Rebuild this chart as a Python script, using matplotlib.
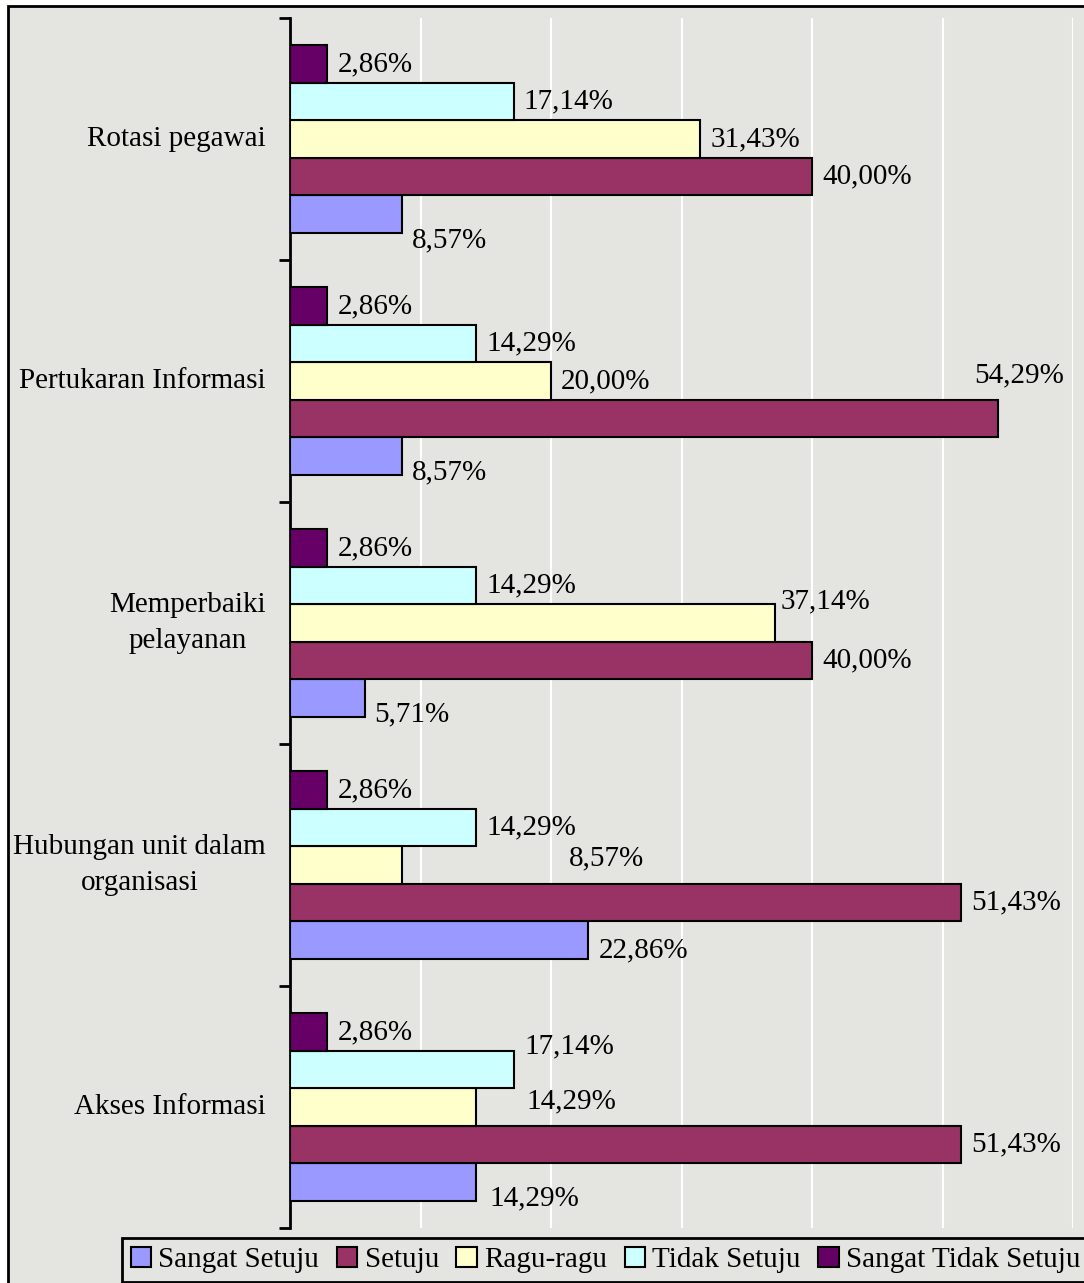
import numpy as np
import matplotlib
matplotlib.use('Agg')
import matplotlib.pyplot as plt
from matplotlib.patches import Rectangle, Patch

plt.rcParams['font.family'] = ['Liberation Serif', 'DejaVu Serif']

# data, categories listed top to bottom as in the chart
categories = ['Rotasi pegawai', 'Pertukaran Informasi', 'Memperbaiki\npelayanan',
              'Hubungan unit dalam\norganisasi', 'Akses Informasi']
series = ['Sangat Setuju', 'Setuju', 'Ragu-ragu', 'Tidak Setuju', 'Sangat Tidak Setuju']
sangat_setuju = [8.57, 8.57, 5.71, 22.86, 14.29]
setuju = [40.00, 54.29, 40.00, 51.43, 51.43]
ragu_ragu = [31.43, 20.00, 37.14, 8.57, 14.29]
tidak_setuju = [17.14, 14.29, 14.29, 14.29, 17.14]
sangat_tidak_setuju = [2.86, 2.86, 2.86, 2.86, 2.86]
values = [sangat_setuju, setuju, ragu_ragu, tidak_setuju, sangat_tidak_setuju]
colors = ['#9999ff', '#993366', '#ffffcc', '#ccffff', '#660066']

# label nudges in pixels (category, series) -> (dx, dy)
nudge = {(0, 0): (10, -26), (1, 1): (-24, 43), (2, 2): (6, 22), (3, 2): (167, 7),
         (3, 0): (10, -10), (4, 3): (11, 23), (4, 2): (50, 6), (4, 0): (13, -16)}

bg = '#e4e4e1'
fig = plt.figure(figsize=(10.84, 12.83), dpi=100)
fig.patch.set_facecolor('white')
frame = Rectangle((8/1084, -0.05), 1.2, 1 - 6/1283 + 0.05, transform=fig.transFigure,
                  facecolor=bg, edgecolor='black', linewidth=2, zorder=-5)
fig.patches.append(frame)

ax = fig.add_axes([290/1084, 1 - 1228/1283, 783/1084, 1210/1283])
ax.patch.set_alpha(0)

n = len(categories)
ypos = np.arange(n)[::-1]  # first category on top
h = 37.5/242
for j in range(len(series)):
    yy = ypos + (j - 2)*h
    ax.barh(yy, values[j], height=h, color=colors[j], edgecolor='black', linewidth=1.5,
            label=series[j], zorder=3)
    for i in range(n):
        v = values[j][i]
        dx, dy = nudge.get((i, j), (10, -16 if j == 0 else 0))
        ax.annotate(f'{v:.2f}%'.replace('.', ','), (v, yy[i]), xytext=(dx, dy),
                    textcoords='offset pixels', ha='left', va='center', fontsize=21, zorder=4)

ax.set_xlim(0, 60)
ax.set_ylim(-0.5, n - 0.5)
ax.set_xticks(np.arange(0, 61, 10))
ax.tick_params(axis='x', length=0, labelbottom=False)
ax.grid(axis='x', color='white', linewidth=1.5, zorder=1)
ax.set_yticks(np.arange(-0.5, n, 1.0))
ax.set_yticklabels([])
ax.tick_params(axis='y', length=8, width=2, direction='out')
for s in ['top', 'right', 'bottom']:
    ax.spines[s].set_visible(False)
ax.spines['left'].set_linewidth(2)

for i, c in enumerate(categories):
    ax.text(-24/13.05, ypos[i], c, ha='right', va='center', multialignment='center',
            fontsize=21, linespacing=1.45)

handles = [Patch(facecolor=colors[j], edgecolor='black', linewidth=1.5) for j in range(len(series))]
leg = fig.legend(handles, series, loc='lower left', bbox_to_anchor=(122/1084, 1/1283), ncol=5,
                 fontsize=21, frameon=True, fancybox=False, edgecolor='black', facecolor=bg,
                 handlelength=0.7, handleheight=0.7, handletextpad=0.25, columnspacing=0.6,
                 borderpad=0.3, borderaxespad=0)
leg.get_frame().set_linewidth(2)
leg.get_frame().set_alpha(1)

fig.savefig('out.png', dpi=100)
